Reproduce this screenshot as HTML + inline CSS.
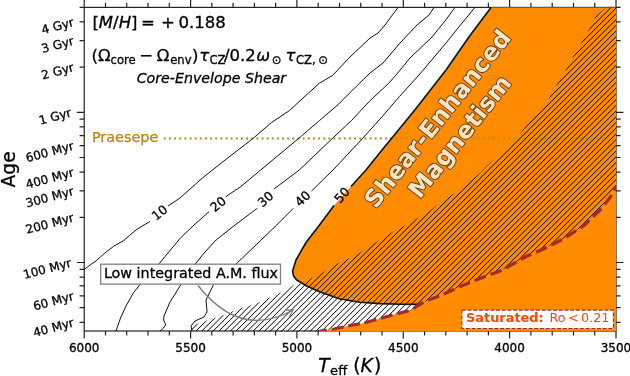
<!DOCTYPE html><html><head><meta charset="utf-8"><title>plot</title><style>html,body{margin:0;padding:0;background:#fff}svg{display:block}text{font-family:"DejaVu Sans","Liberation Sans",sans-serif}text.k{stroke:#000;stroke-width:0.3px}</style></head><body>
<svg width="630" height="376" viewBox="0 0 630 376">
<rect width="630" height="376" fill="#fff"/>
<defs><clipPath id="hc"><polygon points="191.0,331.0 191.0,326.5 198.7,323.3 214.7,318.0 224.7,314.7 232.7,311.3 241.3,308.0 251.3,305.0 260.0,302.0 268.7,298.0 279.3,293.3 293.3,285.3 300.0,283.5 312.0,278.0 326.0,270.7 334.0,266.0 340.0,262.0 350.0,258.0 361.0,252.0 378.0,241.0 394.0,231.0 406.0,225.0 416.0,219.0 426.0,214.0 443.0,200.0 455.0,193.0 468.0,183.0 480.0,173.0 491.0,162.0 500.0,155.0 509.0,148.0 518.0,136.0 526.0,126.0 536.0,115.0 545.0,105.0 551.0,95.0 557.0,84.0 564.0,73.0 574.0,55.0 583.0,40.0 589.0,29.0 596.0,16.0 606.0,7.4 616.0,7.4 616.0,187.0 610.0,197.5 600.0,210.0 583.3,226.0 563.3,239.0 543.3,249.0 526.0,256.5 512.0,264.5 500.0,271.0 480.0,278.5 460.0,286.5 442.0,295.0 426.0,301.0 417.0,306.0 413.0,309.0 408.0,311.0 394.0,314.5 380.0,318.5 364.0,323.0 350.0,325.5 334.0,329.0 318.0,331.5"/></clipPath><clipPath id="ax"><rect x="84.2" y="7.4" width="531.8" height="323.6"/></clipPath></defs>
<rect x="84.2" y="7.4" width="531.8" height="323.6" fill="none" stroke="#222" stroke-width="1.2"/>
<path d="M616.0 331.0v7.4 M616.0 7.4v-7.4 M594.7 331.0v4.6 M594.7 7.4v-4.6 M573.5 331.0v4.6 M573.5 7.4v-4.6 M552.2 331.0v4.6 M552.2 7.4v-4.6 M530.9 331.0v4.6 M530.9 7.4v-4.6 M509.6 331.0v7.4 M509.6 7.4v-7.4 M488.4 331.0v4.6 M488.4 7.4v-4.6 M467.1 331.0v4.6 M467.1 7.4v-4.6 M445.8 331.0v4.6 M445.8 7.4v-4.6 M424.6 331.0v4.6 M424.6 7.4v-4.6 M403.3 331.0v7.4 M403.3 7.4v-7.4 M382.0 331.0v4.6 M382.0 7.4v-4.6 M360.7 331.0v4.6 M360.7 7.4v-4.6 M339.5 331.0v4.6 M339.5 7.4v-4.6 M318.2 331.0v4.6 M318.2 7.4v-4.6 M296.9 331.0v7.4 M296.9 7.4v-7.4 M275.6 331.0v4.6 M275.6 7.4v-4.6 M254.4 331.0v4.6 M254.4 7.4v-4.6 M233.1 331.0v4.6 M233.1 7.4v-4.6 M211.8 331.0v4.6 M211.8 7.4v-4.6 M190.6 331.0v7.4 M190.6 7.4v-7.4 M169.3 331.0v4.6 M169.3 7.4v-4.6 M148.0 331.0v4.6 M148.0 7.4v-4.6 M126.7 331.0v4.6 M126.7 7.4v-4.6 M105.5 331.0v4.6 M105.5 7.4v-4.6 M84.2 331.0v7.4 M84.2 7.4v-7.4 M84.2 262.5h-7.4 M616.0 262.5h7.4 M84.2 112.3h-7.4 M616.0 112.3h7.4 M84.2 322.3h-4.6 M616.0 322.3h4.6 M84.2 307.7h-4.6 M616.0 307.7h4.6 M84.2 295.8h-4.6 M616.0 295.8h4.6 M84.2 285.8h-4.6 M616.0 285.8h4.6 M84.2 277.1h-4.6 M616.0 277.1h4.6 M84.2 269.4h-4.6 M616.0 269.4h4.6 M84.2 217.3h-4.6 M616.0 217.3h4.6 M84.2 190.9h-4.6 M616.0 190.9h4.6 M84.2 172.1h-4.6 M616.0 172.1h4.6 M84.2 157.5h-4.6 M616.0 157.5h4.6 M84.2 145.6h-4.6 M616.0 145.6h4.6 M84.2 135.6h-4.6 M616.0 135.6h4.6 M84.2 126.9h-4.6 M616.0 126.9h4.6 M84.2 119.2h-4.6 M616.0 119.2h4.6 M84.2 67.1h-4.6 M616.0 67.1h4.6 M84.2 40.7h-4.6 M616.0 40.7h4.6 M84.2 21.9h-4.6 M616.0 21.9h4.6 M84.2 7.3h-4.6 M616.0 7.3h4.6" stroke="#222" stroke-width="1.2" fill="none"/>
<line x1="163.8" y1="138.4" x2="425" y2="138.4" stroke="#b8860b" stroke-width="2" stroke-dasharray="1.94 3.203"/>
<path d="M84.2 269.5 L90.0 265.0 L96.0 261.0 L102.0 255.5 L108.0 250.5 L114.0 246.0 L123.0 241.0 L129.5 235.5 L136.0 230.0 L143.0 225.5 L150.0 221.5" stroke="#111" stroke-width="1.0" fill="none" stroke-linejoin="round"/>
<path d="M168.0 206.0 L180.0 198.0 L199.0 181.0 L204.0 176.7 L227.3 158.3 L252.7 138.7 L271.3 122.7 L289.3 110.7 L306.0 95.3 L319.3 83.3 L332.7 75.3 L350.0 57.0 L370.0 38.0 L378.0 33.0 L385.0 25.0 L398.0 7.4" stroke="#111" stroke-width="1.0" fill="none" stroke-linejoin="round"/>
<path d="M116.0 331.0 L120.5 318.0 L126.0 306.0 L133.0 293.5 L140.0 284.4 L159.0 264.0 L165.0 256.5 L180.7 237.7 L194.0 225.0 L209.0 211.7" stroke="#111" stroke-width="1.0" fill="none" stroke-linejoin="round"/>
<path d="M225.7 196.7 L240.7 186.7 L260.7 170.0 L284.7 150.0 L300.7 136.7 L319.3 120.7 L338.0 104.7 L356.7 86.0 L370.0 73.0 L383.0 63.0 L400.0 43.0 L417.0 25.0 L429.0 15.0 L434.0 7.4" stroke="#111" stroke-width="1.0" fill="none" stroke-linejoin="round"/>
<path d="M160.0 331.0 L163.0 328.5 L165.6 325.0 L164.6 322.0 L163.6 320.0 L164.0 316.0 L170.0 302.0 L181.0 284.4 L196.0 263.0 L205.0 252.0 L215.0 241.0 L232.0 227.3 L257.3 208.3" stroke="#111" stroke-width="1.0" fill="none" stroke-linejoin="round"/>
<path d="M274.0 189.0 L299.3 170.0 L330.0 140.7 L351.3 120.7 L370.0 100.7 L388.7 83.3 L396.0 75.0 L410.0 58.0 L432.0 37.0 L445.0 21.0 L455.0 7.4" stroke="#111" stroke-width="1.0" fill="none" stroke-linejoin="round"/>
<path d="M192.0 331.0 L191.0 326.0 L195.0 321.0 L204.0 317.0 L207.0 312.0 L206.0 300.0 L213.6 284.4 L227.0 272.0 L237.5 262.7 L276.7 225.0 L293.3 208.3" stroke="#111" stroke-width="1.0" fill="none" stroke-linejoin="round"/>
<path d="M311.5 191.0 L333.0 170.0 L363.0 138.0 L383.3 115.3 L399.3 96.7 L419.0 75.0 L430.0 62.0 L446.0 43.0 L458.0 28.0 L475.0 7.4" stroke="#111" stroke-width="1.0" fill="none" stroke-linejoin="round"/>
<polygon points="491.0,7.4 470.0,35.5 446.0,70.0 416.4,108.0 391.7,138.3 382.0,150.0 366.0,170.0 351.0,186.5 334.0,205.5 319.5,225.0 306.0,242.5 296.0,260.0 292.6,271.0 293.5,276.0 296.7,280.0 306.7,286.0 320.0,292.0 340.0,299.0 360.0,302.3 380.0,303.6 400.0,304.2 419.0,304.4 417.0,306.0 413.0,309.0 408.0,311.0 394.0,314.5 380.0,318.5 364.0,323.0 350.0,325.5 334.0,329.0 318.0,331.5 616.0,331.0 616.0,7.4" fill="#ff8c00"/>
<line x1="472.7" y1="138.4" x2="613" y2="138.4" stroke="#93931a" stroke-opacity="0.95" stroke-width="1.5" stroke-dasharray="1.5 3.643"/>
<line x1="395.9" y1="138.4" x2="412" y2="138.4" stroke="#93931a" stroke-opacity="0.95" stroke-width="1.5" stroke-dasharray="1.5 3.643"/>
<g clip-path="url(#hc)"><path d="M-172.9 340L167.1 0 M-167.2 340L172.8 0 M-161.5 340L178.5 0 M-155.8 340L184.2 0 M-150.0 340L190.0 0 M-144.3 340L195.7 0 M-138.6 340L201.4 0 M-132.9 340L207.1 0 M-127.2 340L212.8 0 M-121.5 340L218.5 0 M-115.8 340L224.2 0 M-110.0 340L230.0 0 M-104.3 340L235.7 0 M-98.6 340L241.4 0 M-92.9 340L247.1 0 M-87.2 340L252.8 0 M-81.5 340L258.5 0 M-75.8 340L264.2 0 M-70.0 340L270.0 0 M-64.3 340L275.7 0 M-58.6 340L281.4 0 M-52.9 340L287.1 0 M-47.2 340L292.8 0 M-41.5 340L298.5 0 M-35.8 340L304.2 0 M-30.1 340L309.9 0 M-24.3 340L315.7 0 M-18.6 340L321.4 0 M-12.9 340L327.1 0 M-7.2 340L332.8 0 M-1.5 340L338.5 0 M4.2 340L344.2 0 M9.9 340L349.9 0 M15.7 340L355.7 0 M21.4 340L361.4 0 M27.1 340L367.1 0 M32.8 340L372.8 0 M38.5 340L378.5 0 M44.2 340L384.2 0 M49.9 340L389.9 0 M55.7 340L395.7 0 M61.4 340L401.4 0 M67.1 340L407.1 0 M72.8 340L412.8 0 M78.5 340L418.5 0 M84.2 340L424.2 0 M89.9 340L429.9 0 M95.7 340L435.7 0 M101.4 340L441.4 0 M107.1 340L447.1 0 M112.8 340L452.8 0 M118.5 340L458.5 0 M124.2 340L464.2 0 M129.9 340L469.9 0 M135.7 340L475.7 0 M141.4 340L481.4 0 M147.1 340L487.1 0 M152.8 340L492.8 0 M158.5 340L498.5 0 M164.2 340L504.2 0 M169.9 340L509.9 0 M175.7 340L515.7 0 M181.4 340L521.4 0 M187.1 340L527.1 0 M192.8 340L532.8 0 M198.5 340L538.5 0 M204.2 340L544.2 0 M209.9 340L549.9 0 M215.7 340L555.7 0 M221.4 340L561.4 0 M227.1 340L567.1 0 M232.8 340L572.8 0 M238.5 340L578.5 0 M244.2 340L584.2 0 M249.9 340L589.9 0 M255.7 340L595.7 0 M261.4 340L601.4 0 M267.1 340L607.1 0 M272.8 340L612.8 0 M278.5 340L618.5 0 M284.2 340L624.2 0 M289.9 340L629.9 0 M295.6 340L635.6 0 M301.4 340L641.4 0 M307.1 340L647.1 0 M312.8 340L652.8 0 M318.5 340L658.5 0 M324.2 340L664.2 0 M329.9 340L669.9 0 M335.6 340L675.6 0 M341.4 340L681.4 0 M347.1 340L687.1 0 M352.8 340L692.8 0 M358.5 340L698.5 0 M364.2 340L704.2 0 M369.9 340L709.9 0 M375.6 340L715.6 0 M381.4 340L721.4 0 M387.1 340L727.1 0 M392.8 340L732.8 0 M398.5 340L738.5 0 M404.2 340L744.2 0 M409.9 340L749.9 0 M415.6 340L755.6 0 M421.4 340L761.4 0 M427.1 340L767.1 0 M432.8 340L772.8 0 M438.5 340L778.5 0 M444.2 340L784.2 0 M449.9 340L789.9 0 M455.6 340L795.6 0 M461.4 340L801.4 0 M467.1 340L807.1 0 M472.8 340L812.8 0 M478.5 340L818.5 0 M484.2 340L824.2 0 M489.9 340L829.9 0 M495.6 340L835.6 0 M501.4 340L841.4 0 M507.1 340L847.1 0 M512.8 340L852.8 0 M518.5 340L858.5 0 M524.2 340L864.2 0 M529.9 340L869.9 0 M535.6 340L875.6 0 M541.4 340L881.4 0 M547.1 340L887.1 0 M552.8 340L892.8 0 M558.5 340L898.5 0 M564.2 340L904.2 0 M569.9 340L909.9 0 M575.6 340L915.6 0 M581.3 340L921.3 0 M587.1 340L927.1 0 M592.8 340L932.8 0 M598.5 340L938.5 0 M604.2 340L944.2 0 M609.9 340L949.9 0 M615.6 340L955.6 0 M621.3 340L961.3 0 M627.1 340L967.1 0 M632.8 340L972.8 0 M638.5 340L978.5 0 M644.2 340L984.2 0 M649.9 340L989.9 0 M655.6 340L995.6 0" stroke="#000" stroke-width="1.0" fill="none"/></g>
<path d="M491.0 7.4 L470.0 35.5 L446.0 70.0 L416.4 108.0 L391.7 138.3 L382.0 150.0 L366.0 170.0 L351.0 186.5" stroke="#111" stroke-width="1.6" fill="none" stroke-linejoin="round"/>
<path d="M334.0 205.5 L319.5 225.0 L306.0 242.5 L296.0 260.0 L292.6 271.0 L293.5 276.0 L296.7 280.0 L306.7 286.0 L320.0 292.0 L340.0 299.0 L360.0 302.3 L380.0 303.6 L400.0 304.2 L419.0 304.4" stroke="#111" stroke-width="1.6" fill="none" stroke-linejoin="round"/>
<g clip-path="url(#ax)"><path d="M318.0 331.5 L334.0 329.0 L350.0 325.5 L364.0 323.0 L380.0 318.5 L394.0 314.5 L408.0 311.0 L413.0 309.0 L417.0 306.0 L426.0 301.0 L442.0 295.0 L460.0 286.5 L480.0 278.5 L500.0 271.0 L512.0 264.5 L526.0 256.5 L543.3 249.0 L563.3 239.0 L583.3 226.0 L600.0 210.0 L610.0 197.5 L616.0 187.0" stroke="#a52a2a" stroke-width="3.2" fill="none" stroke-dasharray="11.8 5.1" stroke-dashoffset="3" stroke-linejoin="round"/></g>
<text transform="translate(159.5 212.5) rotate(-38.0)" font-size="12.5" text-anchor="middle" dy="4.5" class="k" fill="#000">10</text>
<text transform="translate(218.0 204.0) rotate(-40.0)" font-size="12.5" text-anchor="middle" dy="4.5" class="k" fill="#000">20</text>
<text transform="translate(265.5 199.0) rotate(-42.0)" font-size="12.5" text-anchor="middle" dy="4.5" class="k" fill="#000">30</text>
<text transform="translate(302.7 198.5) rotate(-44.0)" font-size="12.5" text-anchor="middle" dy="4.5" class="k" fill="#000">40</text>
<text transform="translate(342.0 195.0) rotate(-48.0)" font-size="12.5" text-anchor="middle" dy="4.5" class="k" fill="#000">50</text>
<text transform="translate(73.5 21.9) rotate(-15)" font-size="12" text-anchor="end" dy="4" class="k" fill="#000">4 Gyr</text>
<text transform="translate(73.5 40.7) rotate(-15)" font-size="12" text-anchor="end" dy="4" class="k" fill="#000">3 Gyr</text>
<text transform="translate(73.5 67.1) rotate(-15)" font-size="12" text-anchor="end" dy="4" class="k" fill="#000">2 Gyr</text>
<text transform="translate(71.0 112.3) rotate(-15)" font-size="12" text-anchor="end" dy="4" class="k" fill="#000">1 Gyr</text>
<text transform="translate(73.5 145.6) rotate(-15)" font-size="12" text-anchor="end" dy="4" class="k" fill="#000">600 Myr</text>
<text transform="translate(73.5 172.1) rotate(-15)" font-size="12" text-anchor="end" dy="4" class="k" fill="#000">400 Myr</text>
<text transform="translate(73.5 190.9) rotate(-15)" font-size="12" text-anchor="end" dy="4" class="k" fill="#000">300 Myr</text>
<text transform="translate(73.5 217.3) rotate(-15)" font-size="12" text-anchor="end" dy="4" class="k" fill="#000">200 Myr</text>
<text transform="translate(71.0 262.5) rotate(-15)" font-size="12" text-anchor="end" dy="4" class="k" fill="#000">100 Myr</text>
<text transform="translate(73.5 295.8) rotate(-15)" font-size="12" text-anchor="end" dy="4" class="k" fill="#000">60 Myr</text>
<text transform="translate(73.5 322.3) rotate(-15)" font-size="12" text-anchor="end" dy="4" class="k" fill="#000">40 Myr</text>
<text x="616.0" y="351.8" font-size="12" text-anchor="middle" class="k" fill="#000">3500</text>
<text x="509.6" y="351.8" font-size="12" text-anchor="middle" class="k" fill="#000">4000</text>
<text x="403.3" y="351.8" font-size="12" text-anchor="middle" class="k" fill="#000">4500</text>
<text x="296.9" y="351.8" font-size="12" text-anchor="middle" class="k" fill="#000">5000</text>
<text x="190.6" y="351.8" font-size="12" text-anchor="middle" class="k" fill="#000">5500</text>
<text x="84.2" y="351.8" font-size="12" text-anchor="middle" class="k" fill="#000">6000</text>
<text transform="translate(14.5 169.4) rotate(-90)" class="k" font-size="18.7" text-anchor="middle" fill="#000">Age</text>
<text class="k" y="372.3" font-size="18.7" fill="#000"><tspan x="318.3" font-style="italic">T</tspan><tspan x="330.1" y="375" font-size="13.1">eff</tspan><tspan x="353.3" y="372.3">(</tspan><tspan x="360.4" font-style="italic">K</tspan><tspan x="374">)</tspan></text>
<text class="k" x="92.4" y="28" font-size="16.5" fill="#000">[<tspan font-style="italic">M</tspan>/<tspan font-style="italic">H</tspan>]<tspan x="141">=</tspan><tspan x="161">+</tspan><tspan x="178.6">0.188</tspan></text>
<text class="k" y="61" font-size="16.5" fill="#000"><tspan x="91.6">(Ω</tspan><tspan x="110.6" y="64" font-size="11.6">core</tspan><tspan x="139.3" y="61">−</tspan><tspan x="156.8">Ω</tspan><tspan x="170.2" y="64" font-size="11.6">env</tspan><tspan x="192" y="61">)</tspan><tspan x="199.2" font-style="italic">τ</tspan><tspan x="209.5" y="64" font-size="11.6">CZ</tspan><tspan x="224" y="61">/0.2</tspan><tspan x="256.3" font-style="italic">ω</tspan><tspan x="271.7" y="63.6" font-size="11.6">⊙</tspan><tspan x="285.5" y="61" font-style="italic">τ</tspan><tspan x="296" y="64" font-size="11.6">CZ,</tspan><tspan x="318.3" y="63.6" font-size="11.6">⊙</tspan></text>
<text class="k" x="136.7" y="82.7" font-size="14.2" font-style="italic" fill="#000">Core-Envelope Shear</text>
<text x="91.9" y="142.3" font-size="14.4" fill="#b8860b" stroke="#b8860b" stroke-width="0.25">Praesepe</text>
<rect x="100.7" y="264.2" width="179.8" height="19.9" fill="#fff" stroke="#808080" stroke-width="1.3"/>
<text class="k" x="103.9" y="278" font-size="14.32" fill="#000">Low integrated A.M. flux</text>
<path d="M198 285.5 Q240.5 339.5 293 310" stroke="#7a7a7a" stroke-width="1.3" fill="none"/>
<path d="M284.5 310.2 L293 310 L289 317.5" stroke="#7a7a7a" stroke-width="1.3" fill="none"/>
<rect x="461.9" y="310.1" width="151.5" height="18.4" fill="#fff" stroke="#a52a2a" stroke-width="1.1" stroke-dasharray="3.9 1.8"/>
<text x="466" y="322.4" font-size="12.7" fill="#ff4500"><tspan font-weight="bold" font-size="12.9">Saturated:</tspan><tspan x="549.4">Ro</tspan><tspan dx="2.5">&lt;</tspan><tspan dx="2.5">0.21</tspan></text>
<g transform="translate(448.2 127.2) rotate(-51.5)" font-weight="bold" font-size="23.9" text-anchor="middle" fill="#ffe4c4" stroke="#5a3a10" stroke-width="1.8" paint-order="stroke" stroke-linejoin="round"><text x="0" y="-5.5">Shear-Enhanced</text><text x="0" y="23">Magnetism</text></g>
</svg></body></html>
